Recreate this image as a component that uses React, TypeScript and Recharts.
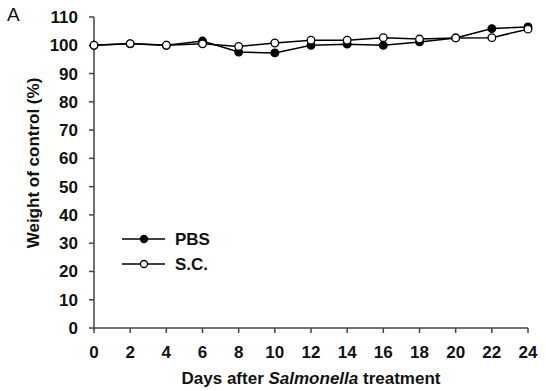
import React from 'react';
import { LineChart, Line, XAxis, YAxis, Label } from 'recharts';

const days = [0, 2, 4, 6, 8, 10, 12, 14, 16, 18, 20, 22, 24];
const pbs = [100, 100.5, 100, 101.5, 97.6, 97.3, 100, 100.4, 100, 101.2, 102.6, 105.9, 106.5];
const sc = [100, 100.6, 100, 100.5, 99.6, 100.8, 101.8, 101.8, 102.7, 102.2, 102.6, 102.7, 105.7];
const yTicks = [0, 10, 20, 30, 40, 50, 60, 70, 80, 90, 100, 110];
const xTicks = [0, 2, 4, 6, 8, 10, 12, 14, 16, 18, 20, 22, 24];
const seriesNames = ['PBS', 'S.C.'];

const data = days.map((d, i) => ({ day: d, pbs: pbs[i], sc: sc[i] }));

const FONT = '"Liberation Sans", Arial, sans-serif';
const tickStyle = { fontSize: 17, fontWeight: 700, fill: '#111', fontFamily: FONT };
const axisStroke = { stroke: '#444', strokeWidth: 1.5 };

function LegendBox() {
  const fills = ['#000', '#fff'];
  return (
    <svg width={130} height={50} style={{ position: 'absolute', left: 110, top: 228 }}>
      {seriesNames.map((name, i) => (
        <g key={name} transform={`translate(0, ${11 + i * 25})`}>
          <line x1={12} x2={55} y1={0} y2={0} stroke="#000" strokeWidth={1.5} />
          <circle cx={34} cy={0} r={3.5} fill={fills[i]} stroke="#000" strokeWidth={1.3} />
          <text x={65} y={6} style={tickStyle}>{name}</text>
        </g>
      ))}
    </svg>
  );
}

export default function App() {
  return (
    <div style={{ position: 'absolute', left: 0, top: 0, width: 546, height: 391, background: '#fff', fontFamily: FONT }}>
      <div style={{ position: 'absolute', left: 7, top: 4, fontSize: 19, color: '#111' }}>A</div>
      <LineChart width={546} height={391} data={data} margin={{ top: 17, right: 18, left: 0, bottom: 33 }}>
        <XAxis
          dataKey="day"
          type="number"
          domain={[0, 24]}
          ticks={xTicks}
          tick={tickStyle}
          axisLine={axisStroke}
          tickLine={axisStroke}
          tickSize={5}
          tickMargin={13}
          height={30}
          interval={0}
        >
          <Label
            content={() => (
              <text x={311} y={384} textAnchor="middle" style={{ fontSize: 17, fontWeight: 700, fill: '#111', fontFamily: FONT }}>
                <tspan>Days after </tspan>
                <tspan fontStyle="italic">Salmonella</tspan>
                <tspan> treatment</tspan>
              </text>
            )}
          />
        </XAxis>
        <YAxis
          type="number"
          domain={[0, 110]}
          ticks={yTicks}
          tick={tickStyle}
          axisLine={axisStroke}
          tickLine={axisStroke}
          tickSize={5}
          tickMargin={11}
          width={94}
          interval={0}
        >
          <Label
            content={() => (
              <text
                x={35}
                y={163}
                transform="rotate(-90, 35, 163)"
                textAnchor="middle"
                dominantBaseline="middle"
                style={{ fontSize: 17, fontWeight: 700, fill: '#111', fontFamily: FONT }}
              >
                Weight of control (%)
              </text>
            )}
          />
        </YAxis>
        <Line
          dataKey="pbs"
          name={seriesNames[0]}
          stroke="#000"
          strokeWidth={1.5}
          dot={{ r: 3.8, fill: '#000', stroke: '#000', strokeWidth: 1.3 }}
          isAnimationActive={false}
        />
        <Line
          dataKey="sc"
          name={seriesNames[1]}
          stroke="#000"
          strokeWidth={1.5}
          dot={{ r: 3.8, fill: '#fff', stroke: '#000', strokeWidth: 1.3 }}
          isAnimationActive={false}
        />
      </LineChart>
      <LegendBox />
    </div>
  );
}
